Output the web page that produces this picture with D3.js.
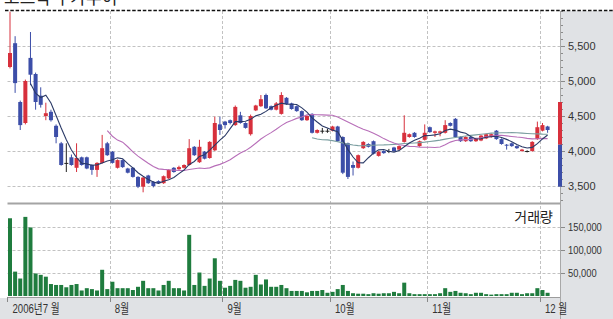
<!DOCTYPE html>
<html>
<head>
<meta charset="utf-8">
<script src="https://cdn.jsdelivr.net/npm/d3@7"></script>
<style>
  html, body { margin: 0; padding: 0; background: #fff; }
  svg { display: block; font-family: "Liberation Sans", Arial, "Noto Sans CJK KR", sans-serif; }
</style>
</head>
<body>
<svg id="chart" width="613" height="319"></svg>
<script>
// month boundaries (index of first trading day) and their labels
const monthStarts = [0, 20, 42, 63, 82, 104];
const monthLabels = ['2006년7 월', '8월', '9월', '10월', '11월', '12 월'];
const priceTicks = [3500, 4000, 4500, 5000, 5500];
const volumeTicks = [50000, 100000, 150000];
const rangeBar = [3490, 4090, 4700]; // low / mid / high marker on the axis

// daily OHLC, Jul 3 2006 .. Dec 4 2006
const open = [
  5200, 5540, 4700, 4400, 5330, 5100, 4790, 4500, 4560, 4360, 4110, 3830, 3910, 3760, 3910, 3910, 3800, 3730, 3830, 4110,
  3990, 3760, 3870, 3750, 3760, 3630, 3490, 3650, 3560, 3570, 3540, 3610, 3760, 3740, 3760, 3800, 4060, 3840, 3990, 3900, 4010, 4380,
  4420, 4440, 4370, 4510, 4400, 4240, 4580, 4640, 4800, 4640, 4590, 4530, 4760, 4680, 4640, 4570, 4440, 4530, 4260, 4290, 4290,
  4290, 4350, 4200, 4110, 3800, 3760, 4040, 4100, 4140, 3930, 4000, 4000, 4050, 4020, 4130, 4200, 4260, 4070, 4160,
  4340, 4260, 4260, 4260, 4400, 4460, 4200, 4140, 4200, 4140, 4150, 4180, 4200, 4290, 4170, 4090, 4110, 4070, 4000, 4000, 4000, 4170,
  4290, 4350
];
const high = [
  5990, 5640, 4720, 5020, 5700, 5120, 4910, 4690, 4590, 4380, 4130, 4110, 3950, 4110, 3920, 3920, 3810, 3840, 4230, 4130,
  4000, 3880, 3880, 3760, 3770, 3640, 3630, 3660, 3570, 3580, 3650, 3740, 3770, 3790, 3810, 4170, 4070, 4160, 4000, 4140, 4490, 4490,
  4430, 4450, 4650, 4560, 4410, 4520, 4660, 4800, 4820, 4650, 4700, 4840, 4770, 4690, 4650, 4580, 4510, 4540, 4310, 4330, 4320,
  4360, 4360, 4210, 4120, 3850, 3950, 4140, 4110, 4150, 4000, 4010, 4030, 4060, 4080, 4510, 4250, 4270, 4150, 4380,
  4350, 4290, 4290, 4440, 4410, 4470, 4210, 4210, 4210, 4190, 4230, 4250, 4250, 4300, 4180, 4100, 4120, 4080, 4030, 4010, 4140, 4420,
  4400, 4360
];
const low = [
  5180, 4830, 4300, 4380, 4940, 4590, 4620, 4440, 4420, 4110, 3790, 3700, 3790, 3700, 3790, 3740, 3660, 3630, 3820, 3930,
  3820, 3750, 3760, 3680, 3620, 3470, 3410, 3530, 3480, 3530, 3530, 3600, 3690, 3730, 3750, 3790, 3930, 3830, 3880, 3890, 4000, 4230,
  4320, 4380, 4360, 4390, 4320, 4220, 4570, 4630, 4600, 4580, 4580, 4520, 4660, 4590, 4560, 4430, 4430, 4250, 4250, 4250, 4260,
  4280, 4130, 3670, 3600, 3650, 3750, 4030, 4050, 3950, 3920, 3960, 3970, 3990, 4010, 4120, 4190, 4190, 4060, 4150,
  4260, 4200, 4210, 4250, 4350, 4190, 4130, 4130, 4130, 4130, 4140, 4170, 4190, 4160, 4090, 4020, 4060, 4030, 3990, 3980, 3990, 4160,
  4280, 4260
];
const close = [
  5400, 4970, 4370, 5000, 5090, 4700, 4660, 4540, 4440, 4200, 3800, 3830, 3800, 3900, 3800, 3750, 3730, 3830, 4040, 3940,
  3830, 3870, 3770, 3690, 3630, 3490, 3620, 3540, 3500, 3540, 3640, 3730, 3700, 3770, 3800, 4040, 3940, 4060, 3890, 4130, 4400, 4300,
  4370, 4400, 4630, 4400, 4330, 4500, 4650, 4740, 4610, 4590, 4680, 4800, 4670, 4600, 4570, 4440, 4500, 4260, 4300, 4290, 4290,
  4350, 4140, 3690, 3630, 3760, 3940, 4130, 4060, 3960, 3990, 3970, 4000, 4000, 4070, 4260, 4240, 4200, 4140, 4260,
  4270, 4280, 4280, 4370, 4360, 4200, 4140, 4200, 4140, 4180, 4220, 4240, 4240, 4170, 4100, 4080, 4070, 4040, 4020, 4000, 4130, 4340,
  4370, 4300
];
const volume = [
  169000, 53000, 38000, 172000, 149000, 49000, 46000, 42000, 26000, 24000, 24000, 19000, 24000, 26000, 12000, 17000, 15000, 12000, 57000, 15000,
  31000, 17000, 17000, 17000, 13000, 20000, 33000, 17000, 17000, 12000, 24000, 33000, 17000, 17000, 12000, 133000, 24000, 51000, 22000, 38000, 82000, 33000,
  18000, 22000, 35000, 33000, 18000, 20000, 46000, 25000, 36000, 20000, 20000, 24000, 17000, 11000, 11000, 11000, 8000, 11000, 11000, 13000, 7000,
  9000, 15000, 24000, 11000, 6000, 5000, 5000, 4000, 6000, 5000, 6000, 6000, 9000, 6000, 29000, 6000, 4000, 4000, 4000,
  4000, 4000, 6000, 17000, 9000, 11000, 7000, 6000, 4000, 7000, 7000, 4000, 3000, 4000, 4000, 4000, 7000, 7000, 4000, 6000, 6000, 17000,
  13000, 7000
];

const RED = '#d7303c', BLUE = '#3c4ea8', DOJI = '#222', GREEN = '#1f7c3e';
const GRID = '#c2c2c2', PANEL = '#e0e2e5';
const plotLeft = 7.5, plotRight = 560;

const svg = d3.select('#chart');

const x = d3.scaleBand()
  .domain(d3.range(close.length))
  .range([7.44, 550.16]);
const cx = i => x(i) + x.bandwidth() / 2;
const barW = 4;

const yP = d3.scaleLinear().domain([3500, 5500]).range([186, 46]);
const yV = d3.scaleLinear().domain([0, 150000]).range([296, 227]);

// squeeze text horizontally (the original uses a narrow face)
function squeeze(sel, k) {
  sel.each(function() {
    const w = this.getComputedTextLength();
    this.setAttribute('textLength', w * k);
    this.setAttribute('lengthAdjust', 'spacingAndGlyphs');
  });
}

// grey panels: right axis and bottom band
svg.append('rect').attr('x', plotRight).attr('y', 11).attr('width', 613 - plotRight).attr('height', 308).attr('fill', PANEL);
svg.append('rect').attr('x', 0).attr('y', 298).attr('width', plotRight).attr('height', 21).attr('fill', PANEL);

// grid
const grid = svg.append('g').attr('stroke', GRID).attr('stroke-dasharray', '3,2');
grid.selectAll('.gp').data(priceTicks).join('line')
  .attr('x1', plotLeft).attr('x2', plotRight)
  .attr('y1', d => Math.round(yP(d)) + 0.5).attr('y2', d => Math.round(yP(d)) + 0.5);
grid.selectAll('.gv').data(volumeTicks).join('line')
  .attr('x1', plotLeft).attr('x2', plotRight)
  .attr('y1', d => Math.round(yV(d)) + 0.5).attr('y2', d => Math.round(yV(d)) + 0.5);
grid.selectAll('.gm').data(monthStarts.slice(1)).join('line')
  .attr('x1', d => Math.round(x(d)) + 0.5).attr('x2', d => Math.round(x(d)) + 0.5)
  .attr('y1', 11).attr('y2', 297);

// panel separator and bottom axis line
svg.append('line').attr('x1', plotLeft).attr('x2', plotRight).attr('y1', 203.5).attr('y2', 203.5)
  .attr('stroke', '#a4a4a4').attr('stroke-width', 2);
svg.append('line').attr('x1', plotLeft).attr('x2', plotRight).attr('y1', 297.5).attr('y2', 297.5)
  .attr('stroke', '#9c9c9c');
svg.append('line').attr('x1', plotRight + 0.5).attr('x2', plotRight + 0.5).attr('y1', 11).attr('y2', 319)
  .attr('stroke', '#a8a8a8');

// month axis
const xAxis = d3.axisBottom(x)
  .tickValues(monthStarts)
  .tickSize(5)
  .tickFormat('');
const gx = svg.append('g').attr('transform', 'translate(0,297)').call(xAxis);
gx.select('.domain').remove();
gx.selectAll('.tick').attr('transform', d => `translate(${Math.round(x(d)) + 0.5},0)`);
gx.selectAll('.tick line').attr('stroke', '#888');
const mLab = svg.append('g').selectAll('text').data(monthStarts).join('text')
  .attr('x', d => x(d) + 5)
  .attr('y', 313)
  .attr('font-size', 13)
  .attr('fill', '#333')
  .text((d, i) => monthLabels[i]);
squeeze(mLab, 0.74);

// price axis (right)
const pMinor = d3.axisRight(yP).tickValues(d3.range(3300, 6001, 100)).tickSize(2).tickFormat('');
const gpm = svg.append('g').attr('transform', `translate(${plotRight + 1},0)`).call(pMinor);
gpm.select('.domain').remove();
gpm.selectAll('line').attr('stroke', '#8a8a8a');
const pAxis = d3.axisRight(yP).tickValues(priceTicks).tickSize(4).tickPadding(3).tickFormat(d3.format(','));
const gp = svg.append('g').attr('transform', `translate(${plotRight + 1},0)`).call(pAxis);
gp.select('.domain').remove();
gp.selectAll('line').attr('stroke', '#8a8a8a');
gp.selectAll('text').attr('font-size', 11).attr('fill', '#333').attr('font-family', '"Liberation Sans", Arial, sans-serif');

// volume axis (right)
const vAxis = d3.axisRight(yV).tickValues(volumeTicks).tickSize(4).tickPadding(3).tickFormat(d3.format(','));
const gv = svg.append('g').attr('transform', `translate(${plotRight + 1},0)`).call(vAxis);
gv.select('.domain').remove();
gv.selectAll('line').attr('stroke', '#8a8a8a');
gv.selectAll('text').attr('font-size', 11).attr('fill', '#333').attr('font-family', '"Liberation Sans", Arial, sans-serif');
squeeze(gv.selectAll('text'), 0.85);

// red/blue range marker on the price axis
svg.append('rect').attr('x', plotRight - 2).attr('width', 4)
  .attr('y', yP(rangeBar[2])).attr('height', yP(rangeBar[1]) - yP(rangeBar[2])).attr('fill', RED);
svg.append('rect').attr('x', plotRight - 2).attr('width', 4)
  .attr('y', yP(rangeBar[1])).attr('height', yP(rangeBar[0]) - yP(rangeBar[1])).attr('fill', BLUE);

// volume bars
svg.append('g').selectAll('rect').data(volume).join('rect')
  .attr('x', (d, i) => cx(i) - barW / 2)
  .attr('width', barW)
  .attr('y', d => yV(d))
  .attr('height', d => yV(0) - yV(d))
  .attr('fill', GREEN);

// candles
const candleColor = i => close[i] > open[i] ? RED : close[i] < open[i] ? BLUE : DOJI;
const candles = svg.append('g').selectAll('g').data(d3.range(close.length)).join('g');
candles.append('line')
  .attr('x1', i => cx(i)).attr('x2', i => cx(i))
  .attr('y1', i => yP(high[i])).attr('y2', i => yP(low[i]))
  .attr('stroke', candleColor).attr('stroke-width', 1);
candles.append('rect')
  .attr('x', i => cx(i) - barW / 2)
  .attr('width', barW)
  .attr('y', i => yP(Math.max(open[i], close[i])))
  .attr('height', i => Math.max(1, Math.abs(yP(open[i]) - yP(close[i]))))
  .attr('fill', candleColor);

// moving averages of the closes
function movingAvg(n) {
  return close.map((c, i) => i < n - 1 ? null : d3.mean(close.slice(i - n + 1, i + 1)));
}
const maLine = d3.line()
  .defined(d => d[1] != null)
  .x(d => cx(d[0]))
  .y(d => yP(d[1]));
[[60, '#7b9ea0'], [20, '#b86fb9'], [5, '#2b3a67']].forEach(([n, col]) => {
  const pts = movingAvg(n).map((v, i) => [i, v]);
  svg.append('path').datum(pts)
    .attr('d', maLine)
    .attr('fill', 'none')
    .attr('stroke', col)
    .attr('stroke-width', 1.1);
});

// dashed rule along the top
svg.append('line').attr('x1', 5).attr('x2', 613).attr('y1', 10.5).attr('y2', 10.5)
  .attr('stroke', '#111').attr('stroke-width', 1.3).attr('stroke-dasharray', '3.5,1.8');

// labels
svg.append('text').attr('x', 553).attr('y', 222).attr('text-anchor', 'end')
  .attr('font-size', 14).attr('fill', '#222')
  .attr('font-family', '"Noto Sans CJK KR", sans-serif')
  .text('거래량');
svg.append('text').attr('x', 4).attr('y', 4).attr('font-size', 17).attr('fill', '#222')
  .attr('font-family', '"Noto Sans CJK KR", sans-serif')
  .text('코스닥 주가추이');
</script>
</body>
</html>
